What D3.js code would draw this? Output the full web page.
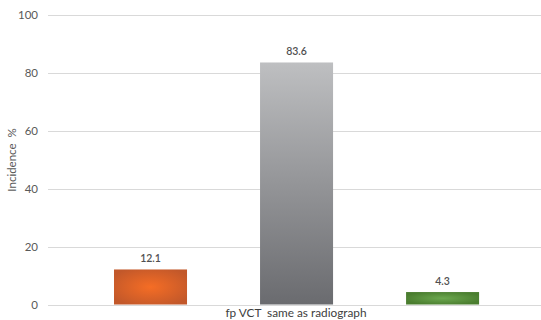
<!DOCTYPE html>
<html><head><meta charset="utf-8">
<script src="https://cdn.jsdelivr.net/npm/d3@7"></script>
<style>body{margin:0;background:#fff;}svg{display:block;font-family:Lato,"Open Sans",sans-serif;}</style>
</head><body>
<script>
const categories = ["fp VCT", "same as radiograph", "other"];
const values = [12.1, 83.6, 4.3];
const valueLabels = ["12.1", "83.6", "4.3"];
const yTicks = [0, 20, 40, 60, 80, 100];
const xAxisLabel = "fp VCT  same as radiograph";
const yAxisLabel = "Incidence  %";

const W = 541, H = 320;
const svg = d3.select("body").append("svg").attr("width", W).attr("height", H);
const defs = svg.append("defs");

const og = defs.append("radialGradient").attr("id","gOrange").attr("cx","50%").attr("cy","50%").attr("r","60%");
og.append("stop").attr("offset","0%").attr("stop-color","#f56d25");
og.append("stop").attr("offset","100%").attr("stop-color","#c2582a");
const gg = defs.append("linearGradient").attr("id","gGray").attr("x1","0").attr("y1","0").attr("x2","0").attr("y2","1");
gg.append("stop").attr("offset","0%").attr("stop-color","#bebfc1");
gg.append("stop").attr("offset","100%").attr("stop-color","#6a6b6f");
const grg = defs.append("radialGradient").attr("id","gGreen").attr("cx","50%").attr("cy","50%").attr("r","55%");
grg.append("stop").attr("offset","0%").attr("stop-color","#6ca84f");
grg.append("stop").attr("offset","100%").attr("stop-color","#4a7d2f");
const fills = ["url(#gOrange)","url(#gGray)","url(#gGreen)"];

const x = d3.scaleBand().domain(categories).range([48, 541])
  .paddingInner(0.5).paddingOuter(0.438).align(0.516);
const y = d3.scaleLinear().domain([0, 100]).range([304.5, 15]);

// gridlines
svg.append("g").selectAll("line").data(yTicks).join("line")
  .attr("x1", 48).attr("x2", 541)
  .attr("y1", d => Math.round(y(d)) + 0.5).attr("y2", d => Math.round(y(d)) + 0.5)
  .attr("stroke", "#d9d9d9").attr("stroke-width", 1);

// y axis labels
const yAxis = d3.axisLeft(y).tickValues(yTicks).tickSize(0).tickPadding(0).tickFormat(d3.format("d"));
const ya = svg.append("g").attr("transform","translate(38,0)").call(yAxis);
ya.select(".domain").remove();
ya.selectAll("text").attr("fill","#595959").attr("font-size","11.5px").attr("font-family","Lato,'Open Sans',sans-serif");

// bars
svg.append("g").selectAll("rect").data(values).join("rect")
  .attr("x", (d,i) => x(categories[i]))
  .attr("width", x.bandwidth())
  .attr("y", d => y(d))
  .attr("height", d => y(0) - y(d))
  .attr("fill", (d,i) => fills[i]);

// value labels
svg.append("g").selectAll("text").data(values).join("text")
  .attr("x", (d,i) => x(categories[i]) + x.bandwidth()/2)
  .attr("y", d => y(d) - 7)
  .attr("text-anchor","middle")
  .attr("font-size","10.5px").attr("font-weight","600").attr("fill","#505050")
  .text((d,i) => valueLabels[i]);

// x axis label
svg.append("text").attr("x", 296).attr("y", 317).attr("text-anchor","middle")
  .style("white-space","pre")
  .attr("font-size","11.8px").attr("fill","#404040").text(xAxisLabel);

// y axis title
svg.append("text").attr("transform","translate(16,160) rotate(-90)").attr("text-anchor","middle")
  .style("white-space","pre")
  .attr("font-size","11.5px").attr("fill","#595959").text(yAxisLabel);
</script>
</body></html>
